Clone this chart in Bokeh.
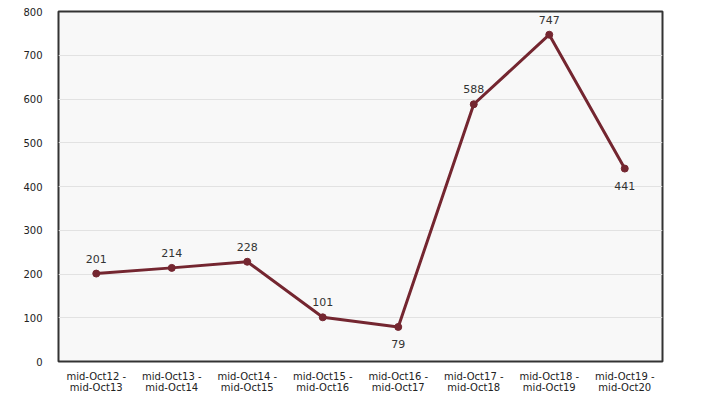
from bokeh.plotting import figure
from bokeh.models import ColumnDataSource, FactorRange, Range1d, FixedTicker
from bokeh.core.properties import value
from bokeh.embed import file_html
from bokeh.resources import INLINE

periods = ["mid-Oct12 -\nmid-Oct13", "mid-Oct13 -\nmid-Oct14", "mid-Oct14 -\nmid-Oct15",
           "mid-Oct15 -\nmid-Oct16", "mid-Oct16 -\nmid-Oct17", "mid-Oct17 -\nmid-Oct18",
           "mid-Oct18 -\nmid-Oct19", "mid-Oct19 -\nmid-Oct20"]
counts = [201, 214, 228, 101, 79, 588, 747, 441]
label_above = [True, True, True, True, False, True, True, False]
y_ticks = [0, 100, 200, 300, 400, 500, 600, 700, 800]

FONT = "DejaVu Sans"
LINE = "#742630"

p = figure(x_range=FactorRange(*periods, range_padding=0), y_range=Range1d(0, 800),
           width=690, height=395, output_backend="svg", toolbar_location=None,
           min_border_left=20, min_border_right=28, min_border_top=11, min_border_bottom=10)

p.background_fill_color = "#f8f8f8"
p.border_fill_color = "white"
p.outline_line_color = "#333333"
p.outline_line_width = 2

p.yaxis.ticker = FixedTicker(ticks=y_ticks)
for ax in (p.xaxis, p.yaxis):
    ax.axis_line_color = None
    ax.major_tick_line_color = None
    ax.minor_tick_line_color = None
    ax.major_label_text_font = FONT
    ax.major_label_text_font_size = "10px"
    ax.major_label_text_color = "#222222"
p.yaxis.major_label_standoff = 10
p.yaxis.axis_label = "\u00a0"
p.yaxis.axis_label_text_font_size = "10px"
p.yaxis.axis_label_standoff = 6
p.xaxis.major_label_standoff = 3
p.xaxis.major_label_text_line_height = 1.0
p.xgrid.grid_line_color = None
p.ygrid.grid_line_color = "#e2e2e2"
p.ygrid.grid_line_width = 1

above = ColumnDataSource(dict(x=[c for c, a in zip(periods, label_above) if a],
                              y=[v for v, a in zip(counts, label_above) if a],
                              t=[str(v) for v, a in zip(counts, label_above) if a]))
below = ColumnDataSource(dict(x=[c for c, a in zip(periods, label_above) if not a],
                              y=[v for v, a in zip(counts, label_above) if not a],
                              t=[str(v) for v, a in zip(counts, label_above) if not a]))
src = ColumnDataSource(dict(x=periods, y=counts))

p.line("x", "y", source=src, line_color=LINE, line_width=3)
p.scatter("x", "y", source=src, size=7, fill_color=LINE, line_color=LINE)

p.text("x", "y", text="t", source=above, text_font=value(FONT), text_font_size="11px",
       text_color="#333333", text_align="center", text_baseline="bottom", y_offset=-11)
p.text("x", "y", text="t", source=below, text_font=value(FONT), text_font_size="11px",
       text_color="#333333", text_align="center", text_baseline="top", y_offset=13)

open("out.html", "w").write(file_html(p, INLINE))
